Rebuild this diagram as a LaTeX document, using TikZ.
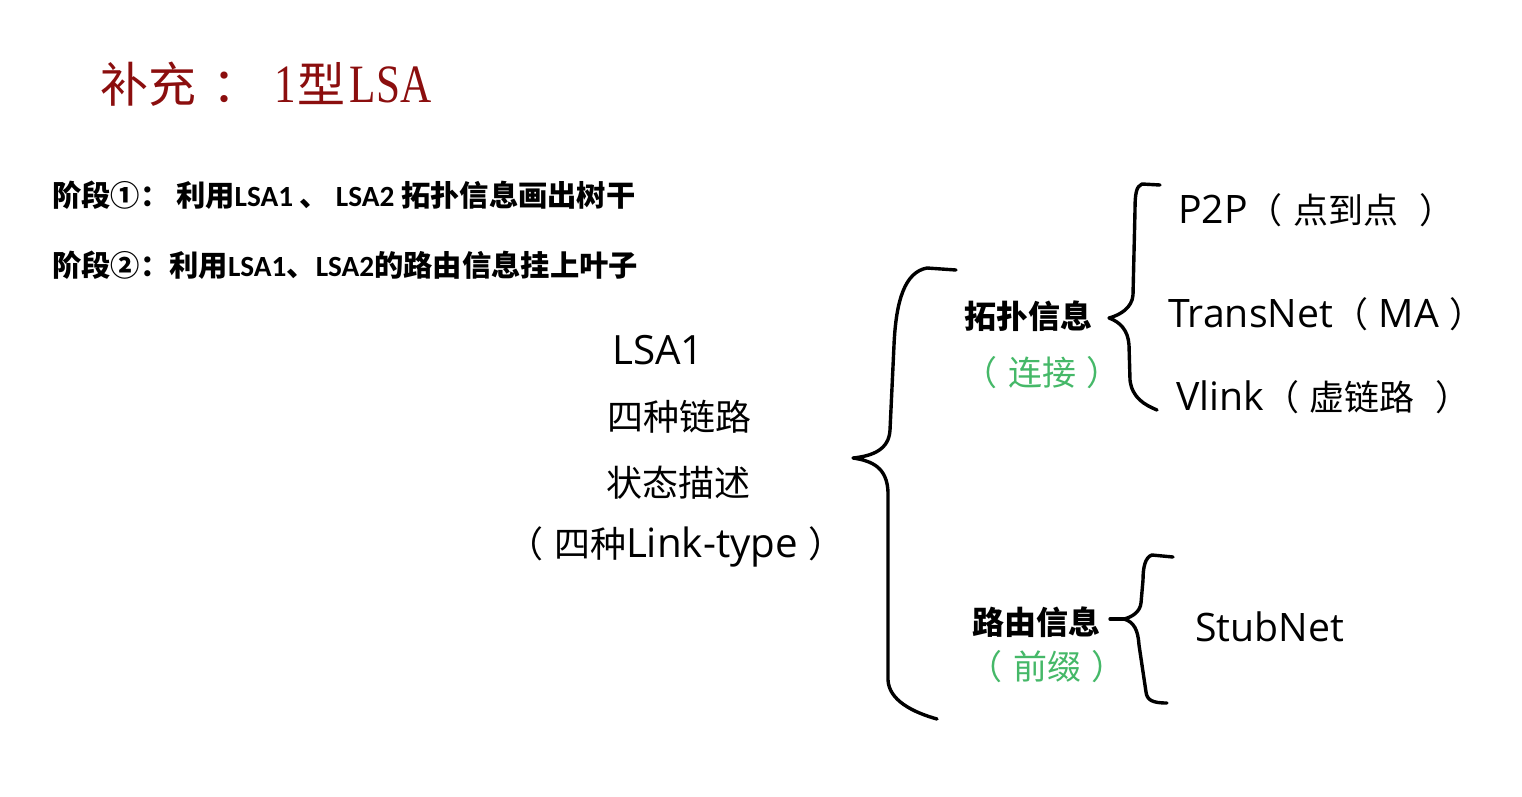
\documentclass[tikz,border=0pt]{standalone}
\usepackage{fontspec}
\setmainfont{Noto Sans CJK SC}
\newfontfamily\latinsans[Scale=1.12]{Open Sans}
\newfontfamily\latinbold{Carlito}
\newfontfamily\latinserif[FakeStretch=0.8]{Liberation Serif}
\usetikzlibrary{positioning}
\definecolor{lsaRed}{HTML}{8B0E0E}
\definecolor{lsaGreen}{HTML}{45B868}
\newcommand\setpx[1]{\fontsize{#1}{#1}\selectfont}
\newcommand\lpar{（\hspace{0.3em}}
\newcommand\rpar{\hspace{0.3em}）}

\begin{document}
\begin{tikzpicture}[x=1pt, y=-1pt, every node/.style={inner sep=0pt, align=center},
    bracestroke/.style={line width=3.4pt, line join=round, line cap=round},
    itemtext/.style={anchor=west, font=\setpx{35}},
    notetext/.style={text=lsaGreen, font=\setpx{34}}]
  \useasboundingbox (0,0) rectangle (1522,796);

  % title and the two stages
  \node[anchor=west, text=lsaRed, font=\setpx{48}] (title) at (100,84)
    {补充\hspace{16pt}：\hspace{14pt}{\latinserif\setpx{54}1}\hspace{2pt}型\hspace{4pt}{\latinserif\setpx{54}LSA}};
  \node[anchor=west, font=\setpx{29.3}\bfseries] (stageA) at (52,195)
    {阶段①： 利用{\latinbold LSA1} 、 {\latinbold LSA2} 拓扑信息画出树干};
  \node[anchor=west, font=\setpx{29.3}\bfseries] (stageB) at (52,265)
    {阶段②：利用{\latinbold LSA1}、{\latinbold LSA2}的路由信息挂上叶子};

  % LSA1 block
  \foreach \n/\x/\y/\a in {
      lsaName/658/350/{\latinsans LSA1},
      linkFour/679/417/四种链路,
      linkState/678/483/状态描述,
      linkType/676/547/{（\hspace{0.3em}四种{\latinsans Link-type}\rpar}} {
    \node[font=\setpx{36}] (\n) at (\x,\y) {\a};
  }

  % middle labels
  \node[font=\setpx{32}\bfseries] (topo) at (1028,316) {拓扑信息};
  \node[notetext] (topoNote) at (1042,373) {（\hspace{0.3em}连接\rpar};
  \node[font=\setpx{32}\bfseries] (route) at (1036,622) {路由信息};
  \node[notetext] (routeNote) at (1047,667) {（\hspace{0.3em}前缀\rpar};

  % link types
  \foreach \n/\x/\y/\a in {
      ptp/1178/210/{{\latinsans P2P}\lpar 点到点\hspace{0.3em}\rpar},
      transNet/1168/314/{{\latinsans TransNet}\lpar{\latinsans MA}\rpar},
      vLink/1176/397/{{\latinsans Vlink}\lpar 虚链路\hspace{0.3em}\rpar},
      stubNet/1195/627/{\latinsans StubNet}} {
    \node[itemtext] (\n) at (\x,\y) {\a};
  }

  % braces
  \coordinate (bigTop) at (956,270);
  \coordinate (bigTip) at (853,458);
  \coordinate (bigBot) at (937,719);
  \coordinate (topoTop) at (1160,185);
  \coordinate (topoTip) at (1109,318);
  \coordinate (topoBot) at (1157,410);
  \coordinate (routeTop) at (1173,557);
  \coordinate (routeTip) at (1124,619);
  \coordinate (routeTick) at (1110,619);
  \coordinate (routeBot) at (1167,703);

  \draw[bracestroke] (bigTop) -- (927,268) .. controls (905,272) and (896,300) .. (894,345)
    -- (890,430) .. controls (889,450) and (872,456) .. (bigTip)
    .. controls (873,461) and (887,468) .. (888,492) -- (888,680)
    .. controls (889,700) and (912,712) .. (bigBot);
  \draw[bracestroke] (topoTop) -- (1142,184) .. controls (1136,186) and (1135,195) .. (1135,210)
    -- (1133,295) .. controls (1132,308) and (1120,315) .. (topoTip)
    .. controls (1120,322) and (1128,330) .. (1129,345) -- (1130,380)
    .. controls (1132,398) and (1145,405) .. (topoBot);
  \draw[bracestroke] (routeTop) -- (1152,555) .. controls (1145,557) and (1143,568) .. (1143,580)
    -- (1141,603) .. controls (1140,612) and (1132,617) .. (routeTip)
    .. controls (1134,622) and (1138,630) .. (1139,645) -- (1146,692)
    .. controls (1147,700) and (1152,703) .. (routeBot);
  \draw[bracestroke] (routeTip) -- (routeTick);
\end{tikzpicture}
\end{document}
